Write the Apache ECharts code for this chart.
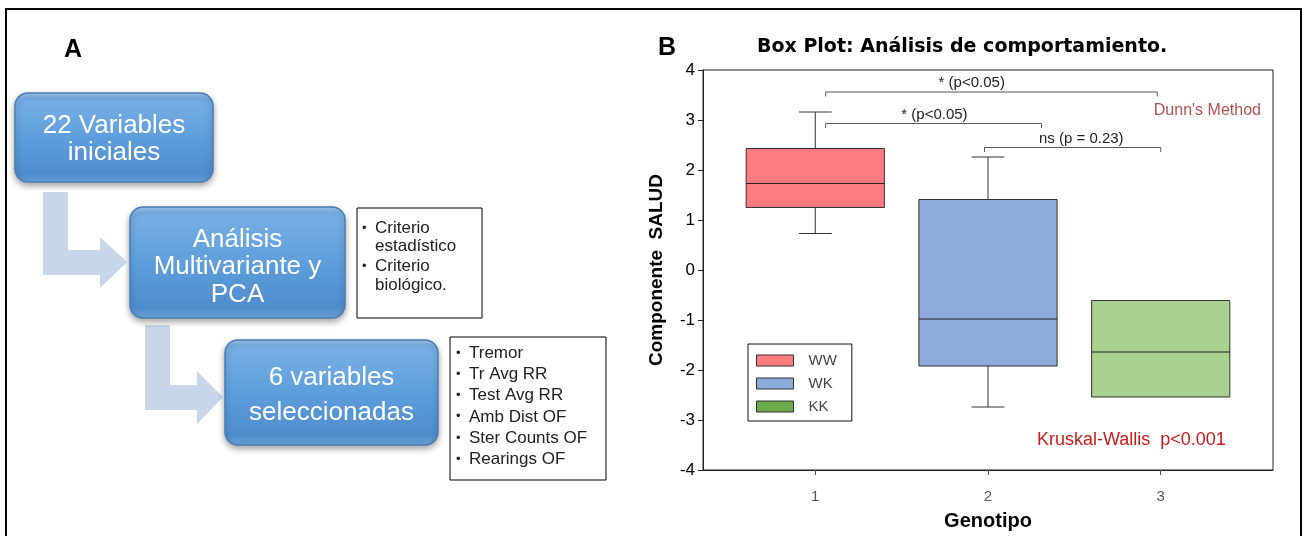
<!DOCTYPE html>
<html><head><meta charset="utf-8">
<script src="https://cdn.jsdelivr.net/npm/echarts@6/dist/echarts.min.js"></script>
<style>html,body{margin:0;padding:0;background:#fff}#c{width:1306px;height:536px}</style>
</head><body><div id="c"></div><script>
// ---------- data: panel B (box plot) ----------
const genotypes   = ['WW', 'WK', 'KK'];
const xPositions  = [1, 2, 3];
const whiskerLow  = [0.73, -2.74, -2.54];
const q1          = [1.25, -1.92, -2.54];
const median      = [1.73, -0.98, -1.64];
const q3          = [2.43, 1.41, -0.61];
const whiskerHigh = [3.16, 2.26, -0.61];
const xTickValues = [1, 2, 3];
const yMin = -4, yMax = 4, yStep = 1;
// significance brackets: [from x, to x, height]
const brackets = [[1.06, 2.98, 3.56], [1.06, 2.31, 2.93], [1.98, 3.0, 2.45]];
// bracket labels: [text, x, y]
const bracketLabels = [['* (p<0.05)', 1.906, 3.74], ['* (p<0.05)', 1.69, 3.11], ['ns (p = 0.23)', 2.54, 2.63]];
const noteDunn = ["Dunn's Method", 3.27, 3.19];
const noteKW = ['Kruskal-Wallis  p<0.001', 2.83, -3.41];

// ---------- data: panel A (flow diagram) ----------
const flowSteps = [['22 Variables', 'iniciales'], ['Análisis', 'Multivariante y', 'PCA'], ['6 variables', 'seleccionadas']];
const criteriaA = [['Criterio', 'estadístico'], ['Criterio', 'biológico.']];
const criteriaB = ['Tremor', 'Tr Avg RR', 'Test Avg RR', 'Amb Dist OF', 'Ster Counts OF', 'Rearings OF'];

// ---------- styles ----------
const boxColors = ['#ff7b80', '#8eabdc', '#a8d08e'];
const legendColors = ['#ff7b80', '#8aaadb', '#6aaa48'];
const BOX_W = 0.8, CAP_W = 0.19, DROP = 0.09;
const FONT = '"Liberation Sans", Arial, sans-serif';

function renderBox(params, api) {
  const x = api.value(0), lo = api.value(1), a = api.value(2), m = api.value(3), b = api.value(4), hi = api.value(5);
  const tl = api.coord([x - BOX_W / 2, b]), br = api.coord([x + BOX_W / 2, a]);
  const ml = api.coord([x - BOX_W / 2, m]), mr = api.coord([x + BOX_W / 2, m]);
  const children = [];
  const lineStyle = { stroke: '#333', lineWidth: 1, fill: null };
  if (hi > b) {
    const p1 = api.coord([x, b]), p2 = api.coord([x, hi]);
    const c1 = api.coord([x - CAP_W / 2, hi]), c2 = api.coord([x + CAP_W / 2, hi]);
    children.push({ type: 'line', shape: { x1: p1[0], y1: p1[1], x2: p2[0], y2: p2[1] }, style: lineStyle });
    children.push({ type: 'line', shape: { x1: c1[0], y1: c1[1], x2: c2[0], y2: c2[1] }, style: lineStyle });
  }
  if (lo < a) {
    const p1 = api.coord([x, a]), p2 = api.coord([x, lo]);
    const c1 = api.coord([x - CAP_W / 2, lo]), c2 = api.coord([x + CAP_W / 2, lo]);
    children.push({ type: 'line', shape: { x1: p1[0], y1: p1[1], x2: p2[0], y2: p2[1] }, style: lineStyle });
    children.push({ type: 'line', shape: { x1: c1[0], y1: c1[1], x2: c2[0], y2: c2[1] }, style: lineStyle });
  }
  children.push({ type: 'rect', shape: { x: tl[0], y: tl[1], width: br[0] - tl[0], height: br[1] - tl[1] },
    style: { fill: api.visual('color'), stroke: '#333', lineWidth: 1 } });
  children.push({ type: 'line', shape: { x1: ml[0], y1: ml[1], x2: mr[0], y2: mr[1] }, style: { stroke: '#222', lineWidth: 1 } });
  return { type: 'group', children };
}

function renderBracket(params, api) {
  const x1 = api.value(0), x2 = api.value(1), y = api.value(2);
  const pts = [api.coord([x1, y - DROP]), api.coord([x1, y]), api.coord([x2, y]), api.coord([x2, y - DROP])];
  return { type: 'polyline', shape: { points: pts }, style: { stroke: '#555', lineWidth: 1, fill: null } };
}

function textRenderer(color, size) {
  return function (params, api) {
    const p = api.coord([api.value(1), api.value(2)]);
    return { type: 'text', style: { text: api.value(0), x: p[0], y: p[1], align: 'center', verticalAlign: 'middle',
      font: size + 'px ' + FONT, fill: color } };
  };
}

const boxSeries = genotypes.map((g, i) => ({
  name: g, type: 'custom', renderItem: renderBox, itemStyle: { color: boxColors[i] },
  data: [[xPositions[i], whiskerLow[i], q1[i], median[i], q3[i], whiskerHigh[i]]],
  encode: { x: 0, y: [1, 2, 3, 4, 5] }, silent: true, z: 3
}));

// ---------- panel A graphics ----------
const graphics = [];
graphics.push({ type: 'rect', shape: { x: 6, y: 9, width: 1295, height: 540 }, style: { fill: null, stroke: '#000', lineWidth: 2 }, z: 100 });
graphics.push({ type: 'text', style: { text: 'A', x: 73, y: 50, align: 'center', verticalAlign: 'middle', font: 'bold 25px ' + FONT, fill: '#000' } });
graphics.push({ type: 'text', style: { text: 'B', x: 667, y: 48, align: 'center', verticalAlign: 'middle', font: 'bold 25px ' + FONT, fill: '#000' } });

const arrowColor = '#c8d6ea';
const arrows = [
  [[43, 192], [68, 192], [68, 250], [100, 250], [100, 237], [127, 262], [100, 288], [100, 275], [43, 275]],
  [[145, 325], [170, 325], [170, 385], [197, 385], [197, 371], [223, 397], [197, 424], [197, 410], [145, 410]]
];
arrows.forEach(pts => graphics.push({ type: 'polygon', shape: { points: pts }, style: { fill: arrowColor } }));

const flowBoxes = [
  { x: 15, y: 93, w: 198, h: 89, lines: [126, 153] },
  { x: 130, y: 207, w: 215, h: 111, lines: [240, 267, 295] },
  { x: 225, y: 340, w: 213, h: 105, lines: [378, 413] }
];
const boxFill = { type: 'linear', x: 0, y: 0, x2: 0, y2: 1, colorStops: [
  { offset: 0, color: '#a7cbef' }, { offset: 0.06, color: '#79b0e6' }, { offset: 0.5, color: '#5e9edc' },
  { offset: 0.9, color: '#4f8ccc' }, { offset: 1, color: '#6aa2d8' }] };
flowBoxes.forEach((b, i) => {
  graphics.push({ type: 'rect', shape: { x: b.x, y: b.y, width: b.w, height: b.h, r: 13 },
    style: { fill: boxFill, stroke: '#4a7db3', lineWidth: 1.5, shadowBlur: 6, shadowOffsetY: 3, shadowColor: 'rgba(0,0,0,0.35)' } });
  flowSteps[i].forEach((t, j) => graphics.push({ type: 'text', style: { text: t, x: b.x + b.w / 2, y: b.lines[j],
    align: 'center', verticalAlign: 'middle', font: '26px ' + FONT, fill: '#fff' } }));
});

graphics.push({ type: 'rect', shape: { x: 357, y: 208, width: 125, height: 110 }, style: { fill: '#fff', stroke: '#000', lineWidth: 1 } });
const critY = [228, 246, 266, 285];
let k = 0;
criteriaA.forEach(item => item.forEach((t, j) => {
  if (j === 0) graphics.push({ type: 'text', style: { text: '•', x: 362, y: critY[k], verticalAlign: 'middle', font: '13px ' + FONT, fill: '#222' } });
  graphics.push({ type: 'text', style: { text: t, x: 375, y: critY[k], verticalAlign: 'middle', font: '17px ' + FONT, fill: '#222' } });
  k++;
}));

graphics.push({ type: 'rect', shape: { x: 450, y: 337, width: 156, height: 143 }, style: { fill: '#fff', stroke: '#000', lineWidth: 1 } });
criteriaB.forEach((t, i) => {
  const y = 353 + 21.3 * i;
  graphics.push({ type: 'text', style: { text: '•', x: 456, y: y, verticalAlign: 'middle', font: '13px ' + FONT, fill: '#222' } });
  graphics.push({ type: 'text', style: { text: t, x: 469, y: y, verticalAlign: 'middle', font: '17px ' + FONT, fill: '#222' } });
});

const chart = echarts.init(document.getElementById('c'));
chart.setOption({
  animation: false,
  backgroundColor: '#fff',
  title: { text: 'Box Plot: Análisis de comportamiento.', left: 752, top: 33,
    textStyle: { fontFamily: '"DejaVu Sans", sans-serif', fontWeight: 'bold', fontSize: 19, color: '#000' } },
  legend: {
    orient: 'vertical', left: 748, top: 344, selectedMode: false,
    data: genotypes.map((g, i) => ({ name: g, icon: 'rect', itemStyle: { color: legendColors[i], borderColor: '#333', borderWidth: 1 } })),
    itemWidth: 37, itemHeight: 11, itemGap: 8,
    borderColor: '#111', borderWidth: 1, padding: [9, 15, 7, 8],
    textStyle: { fontFamily: FONT, fontSize: 15, color: '#444', padding: [0, 0, 0, 10] }
  },
  grid: { left: 703, top: 70, width: 570, height: 400, show: true, borderColor: '#222', borderWidth: 1, backgroundColor: 'transparent' },
  xAxis: {
    type: 'value', min: 0.35, max: 3.65,
    name: 'Genotipo', nameLocation: 'middle', nameGap: 41,
    nameTextStyle: { fontFamily: FONT, fontWeight: 'bold', fontSize: 20, color: '#000' },
    axisLine: { show: true, onZero: false, lineStyle: { color: '#222' } },
    axisTick: { show: true, length: 5, customValues: xTickValues, lineStyle: { color: '#555' } },
    axisLabel: { customValues: xTickValues, margin: 19, fontFamily: FONT, fontSize: 15, color: '#555' },
    splitLine: { show: false }
  },
  yAxis: {
    type: 'value', min: yMin, max: yMax, interval: yStep,
    name: 'Componente  SALUD', nameLocation: 'middle', nameGap: 37, nameRotate: 90,
    nameTextStyle: { fontFamily: FONT, fontWeight: 'bold', fontSize: 19, color: '#000' },
    axisLine: { show: true, onZero: false, lineStyle: { color: '#222' } },
    axisTick: { show: true, length: 5, lineStyle: { color: '#222' } },
    axisLabel: { margin: 8, fontFamily: FONT, fontSize: 17, color: '#000' },
    splitLine: { show: false }
  },
  graphic: graphics,
  series: boxSeries.concat([
    { type: 'custom', renderItem: renderBracket, data: brackets, encode: { x: [0, 1], y: 2 }, silent: true, z: 4 },
    { type: 'custom', renderItem: textRenderer('#222', 15), data: bracketLabels, encode: { x: 1, y: 2 }, silent: true, z: 5 },
    { type: 'custom', renderItem: textRenderer('#b5504f', 16), data: [noteDunn], encode: { x: 1, y: 2 }, silent: true, z: 5 },
    { type: 'custom', renderItem: textRenderer('#cc1a1a', 18), data: [noteKW], encode: { x: 1, y: 2 }, silent: true, z: 5 }
  ])
});
</script></body></html>
